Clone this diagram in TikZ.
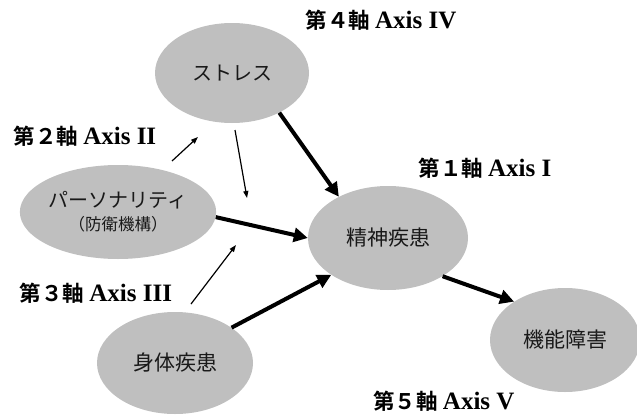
\documentclass[tikz,border=0pt]{standalone}
\usepackage{fontspec}
\setmainfont{Liberation Serif}
\newfontfamily\jpfont{Noto Sans CJK JP}
\newfontfamily\jpbold{Noto Sans CJK JP Bold}
\newcommand{\axl}[2]{{\jpbold\fontsize{21.5}{23}\selectfont #1}\hspace{5pt}{\bfseries\fontsize{25}{26}\selectfont #2}}
\usetikzlibrary{shapes.geometric,arrows.meta}
\begin{document}
\begin{tikzpicture}[x=1pt,y=-1pt,
  blob/.style={ellipse,fill=gray!50,inner sep=0pt,align=center,text=black!90},
  axislabel/.style={inner sep=0pt,anchor=center},
  thickarrow/.style={line width=4pt,-{Triangle[length=14pt,width=14pt]}},
  thinarrow/.style={line width=1.2pt,-{Triangle[length=7pt,width=5pt]}}]
\useasboundingbox (0,0) rectangle (637,415);
% ellipses
\node[blob,minimum width=154pt,minimum height=100pt,font=\jpfont\fontsize{20}{21}\selectfont] (stress) at (232,73) {ストレス};
\node[blob,minimum width=158pt,minimum height=94pt,font=\jpfont\fontsize{20}{22}\selectfont] (pers) at (118,212) {パーソナリティ\\[1pt]{\fontsize{16.5}{17}\selectfont （防衛機構）}};
\node[blob,minimum width=160pt,minimum height=104pt,font=\jpfont\fontsize{21}{22}\selectfont] (mental) at (388,238) {精神疾患};
\node[blob,minimum width=150pt,minimum height=104pt,font=\jpfont\fontsize{21}{22}\selectfont] (func) at (565,340) {機能障害};
\node[blob,minimum width=156pt,minimum height=102pt,font=\jpfont\fontsize{21}{22}\selectfont] (body) at (175,363) {身体疾患};
% labels
\node[axislabel] (ax4) at (381,20) {\axl{第４軸}{Axis IV}};
\node[axislabel] (ax2) at (85,136) {\axl{第２軸}{Axis II}};
\node[axislabel] (ax1) at (485,168) {\axl{第１軸}{Axis I}};
\node[axislabel] (ax3) at (96,293) {\axl{第３軸}{Axis III}};
\node[axislabel] (ax5) at (444,401) {\axl{第５軸}{Axis V}};
% thin arrow end points
\coordinate (t1s) at (172,161);
\coordinate (t1e) at (198,137);
\coordinate (t2s) at (235,130);
\coordinate (t2e) at (247,198);
\coordinate (t3s) at (191,304);
\coordinate (t3e) at (236,245);
\draw[thinarrow] (t1s) -- (t1e);
\draw[thinarrow] (t2s) -- (t2e);
\draw[thinarrow] (t3s) -- (t3e);
% thick arrows
\draw[thickarrow] (stress.-40) -- (mental.140);
\draw[thickarrow] (pers.-3) -- (mental.180);
\draw[thickarrow] (body.32) -- (mental.213);
\draw[thickarrow] (mental.-35) -- (func.143);
\end{tikzpicture}
\end{document}
